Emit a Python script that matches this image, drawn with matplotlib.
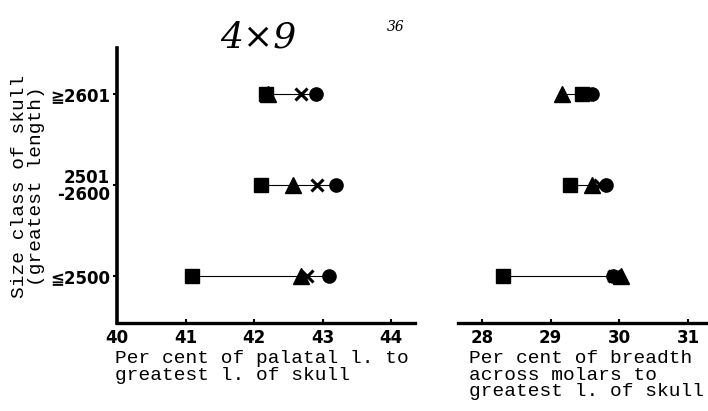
import matplotlib
matplotlib.use("Agg")
import matplotlib.pyplot as plt

# Size classes (bottom to top)
size_classes = ["≦2500", "2501\n-2600", "≧2601"]

# Left panel: per cent of palatal length to greatest length of skull
palatal_square = [41.10, 42.10, 42.17]
palatal_triangle = [42.68, 42.57, 42.20]
palatal_x = [42.77, 42.92, 42.68]
palatal_circle = [43.09, 43.20, 42.90]

# Right panel: per cent of breadth across molars to greatest length of skull
molar_square = [28.30, 29.28, 29.45]
molar_triangle = [30.02, 29.60, 29.17]
molar_x = [29.92, 29.72, 29.55]
molar_circle = [29.90, 29.80, 29.60]

left_ticks = [40, 41, 42, 43, 44]
right_ticks = [28, 29, 30, 31]

tick_font = dict(family=["Liberation Sans Narrow", "DejaVu Sans"], weight="bold", size=12)
mono = ["Liberation Mono", "DejaVu Sans Mono"]

fig = plt.figure(figsize=(7.08, 4.11), dpi=100)
axL = fig.add_axes([117 / 708, 1 - 323 / 411, (415 - 117) / 708, (323 - 48) / 411])
axR = fig.add_axes([458 / 708, 1 - 323 / 411, (708 - 458) / 708, (323 - 48) / 411])

ys = list(range(len(size_classes)))


def draw(ax, sq, tr, xx, ci):
    for i, y in enumerate(ys):
        vals = [sq[i], tr[i], xx[i], ci[i]]
        ax.plot([min(vals), max(vals)], [y, y], color="black", lw=0.8, zorder=1)
    ax.plot(ci, ys, "o", color="black", ms=9.5, ls="none", zorder=2)
    ax.plot(xx, ys, "x", color="black", ms=9, mew=2.2, ls="none", zorder=3)
    ax.plot(tr, ys, "^", color="black", ms=11, ls="none", zorder=4)
    ax.plot(sq, ys, "s", color="black", ms=10, ls="none", zorder=5)
    ax.set_ylim(-0.52, 2.51)
    for s in ["top", "right"]:
        ax.spines[s].set_visible(False)
    ax.spines["bottom"].set_linewidth(2.4)
    ax.tick_params(axis="x", direction="in", length=3, width=1.5, pad=4)
    for lab in ax.get_xticklabels():
        lab.set_fontproperties(matplotlib.font_manager.FontProperties(**tick_font))


axL.set_xlim(40.0, 44.35)
axL.set_xticks(left_ticks)
axL.set_xticklabels([str(t) for t in left_ticks])
axL.set_yticks(ys)
axL.set_yticklabels(size_classes, linespacing=0.95)
draw(axL, palatal_square, palatal_triangle, palatal_x, palatal_circle)
axL.spines["left"].set_linewidth(2.6)
axL.tick_params(axis="y", direction="out", length=3, width=1.5, pad=2)
for lab in axL.get_yticklabels():
    lab.set_fontproperties(matplotlib.font_manager.FontProperties(**tick_font))

axR.set_xlim(27.65, 31.29)
axR.set_xticks(right_ticks)
axR.set_xticklabels([str(t) for t in right_ticks])
axR.set_yticks([])
axR.spines["left"].set_visible(False)
draw(axR, molar_square, molar_triangle, molar_x, molar_circle)

fig.text(115 / 708, 1 - 350 / 411, "Per cent of palatal l. to\ngreatest l. of skull",
         family=mono, size=14, ha="left", va="top", linespacing=0.98)
fig.text(469 / 708, 1 - 350 / 411, "Per cent of breadth\nacross molars to\ngreatest l. of skull",
         family=mono, size=14, ha="left", va="top", linespacing=0.98)
fig.text(28 / 708, 1 - 186 / 411, "Size class of skull\n(greatest length)",
         family=mono, size=14, rotation=90, ha="center", va="center",
         linespacing=0.95, multialignment="center")

# handwritten annotations on the scan
fig.text(258 / 708, 1 - 38 / 411, "4×9", family=["DejaVu Serif"], style="italic",
         size=26, ha="center", va="center")
fig.text(396 / 708, 1 - 27 / 411, "36", family=["DejaVu Serif"], style="italic",
         size=10, ha="center", va="center")

fig.savefig("out.png", dpi=100)
